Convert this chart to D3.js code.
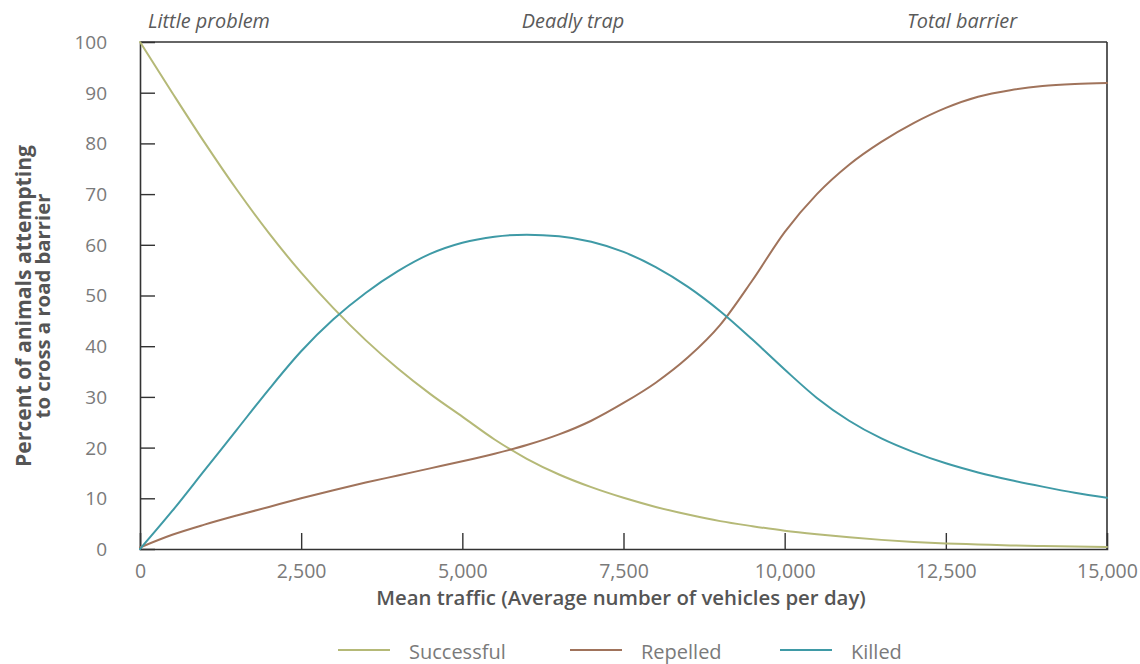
<!DOCTYPE html>
<html>
<head>
<meta charset="utf-8">
<script src="https://cdn.jsdelivr.net/npm/d3@7"></script>
<style>
  html, body { margin: 0; padding: 0; background: #fff; }
  svg { display: block; font-family: "Open Sans", Lato, sans-serif; }
</style>
</head>
<body>
<svg id="chart" width="1140" height="664"></svg>
<script>
const traffic = [0,500,1000,1500,2000,2500,3000,3500,4000,4500,5000,5500,6000,6500,7000,7500,8000,8500,9000,9500,10000,10500,11000,11500,12000,12500,13000,13500,14000,14500,15000];
const successful = [100,90,80.2,70.9,62.3,54.5,47.5,41.2,35.6,30.6,26.1,21.6,17.8,14.7,12.2,10.1,8.3,6.8,5.5,4.5,3.6,2.9,2.3,1.8,1.4,1.1,0.9,0.7,0.6,0.5,0.4];
const repelled = [0.3,2.8,4.8,6.6,8.3,10,11.6,13.1,14.5,15.9,17.3,18.8,20.5,22.6,25.3,28.8,32.8,37.8,44.2,53,62.5,70,75.8,80.3,84,87,89.2,90.5,91.3,91.7,91.9];
const killed = [0,7.5,15.5,23.5,31.5,39,45.3,50.5,54.8,58.2,60.4,61.6,62,61.7,60.6,58.6,55.6,51.7,46.9,41.3,35.4,29.8,25.3,21.8,19.1,16.9,15.1,13.6,12.3,11.1,10.1];
const seriesNames = ["Successful","Repelled","Killed"];
const xTicks = [0,2500,5000,7500,10000,12500,15000];
const yTicks = [0,10,20,30,40,50,60,70,80,90,100];
const zoneLabels = ["Little problem","Deadly trap","Total barrier"];
const xTitle = "Mean traffic (Average number of vehicles per day)";
const yTitleLines = ["Percent of animals attempting","to cross a road barrier"];

const colors = {"Successful":"#b5b977","Repelled":"#a0735b","Killed":"#3f9aa6"};
const seriesData = {"Successful":successful,"Repelled":repelled,"Killed":killed};

const svg = d3.select("#chart");
const mLeft = 140, mRight = 1107, mTop = 42, mBottom = 549;

const x = d3.scaleLinear().domain([0,15000]).range([mLeft,mRight]);
const y = d3.scaleLinear().domain([0,100]).range([mBottom,mTop]);

const axisColor = "#333";
const textColor = "#7a7a7a";
const titleColor = "#555";

// scale a text's font size so it spans the target width; returns the new size
function fitWidth(sel, target) {
  const node = sel.node();
  const fs = parseFloat(sel.style("font-size"));
  const w = node.getComputedTextLength();
  const nfs = w > 0 ? fs * target / w : fs;
  sel.style("font-size", nfs.toFixed(2) + "px");
  return nfs;
}

// frame top & right
svg.append("line").attr("x1",mLeft).attr("x2",mRight).attr("y1",mTop).attr("y2",mTop)
  .attr("stroke",axisColor).attr("stroke-width",1.6);
svg.append("line").attr("x1",mRight).attr("x2",mRight).attr("y1",mTop).attr("y2",mBottom)
  .attr("stroke",axisColor).attr("stroke-width",1.6);

// Y axis
const yAxis = svg.append("g").attr("transform",`translate(${mLeft},0)`)
  .call(d3.axisLeft(y).tickValues(yTicks).tickSize(-15).tickPadding(33).tickFormat(d3.format("d")));
yAxis.select(".domain").attr("stroke",axisColor).attr("stroke-width",1.6);
yAxis.selectAll(".tick line").attr("stroke",axisColor).attr("stroke-width",1.4)
  .filter(d => d === 0 || d === 100).remove();
yAxis.selectAll(".tick text").attr("fill",textColor)
  .style("font-size","19px").style("font-family","'Open Sans', sans-serif").attr("dy","0.34em");

// X axis
const xAxis = svg.append("g").attr("transform",`translate(0,${mBottom})`)
  .call(d3.axisBottom(x).tickValues(xTicks).tickSize(-16).tickPadding(15).tickFormat(d3.format(",")));
xAxis.select(".domain").attr("stroke",axisColor).attr("stroke-width",1.6);
xAxis.selectAll(".tick line").attr("stroke",axisColor).attr("stroke-width",1.4)
  .filter(d => d === 0 || d === 15000).remove();
xAxis.selectAll(".tick text").attr("fill",textColor)
  .style("font-size","19.5px").style("font-family","'Open Sans', sans-serif");

// Lines
const line = d3.line()
  .x((d,i) => x(traffic[i]))
  .y(d => y(d))
  .curve(d3.curveMonotoneX);

seriesNames.forEach(name => {
  svg.append("path")
    .datum(seriesData[name])
    .attr("fill","none")
    .attr("stroke",colors[name])
    .attr("stroke-width",2)
    .attr("stroke-linecap","round")
    .attr("d",line);
});

// Zone labels
const zoneX = [148, 573, 962];
const zoneAnchor = ["start","middle","middle"];
let zoneFs = 17;
zoneLabels.forEach((t,i) => {
  const z = svg.append("text").attr("x",zoneX[i]).attr("y",28)
    .attr("text-anchor",zoneAnchor[i])
    .attr("fill","#5a5a5a").style("font-style","italic").style("font-size","17px")
    .text(t);
  if (i === 0) zoneFs = fitWidth(z, 122);
  else z.style("font-size", zoneFs.toFixed(2) + "px");
});

// X title
const xt = svg.append("text").attr("x",621).attr("y",605)
  .attr("text-anchor","middle").attr("fill",titleColor)
  .style("font-weight","600").style("font-size","19px")
  .text(xTitle);
fitWidth(xt, 490);

// Y title
const yTitleX = [31, 50];
const yTitleW = [322, 225];
yTitleLines.forEach((t,i) => {
  const tt = svg.append("text").attr("transform",`translate(${yTitleX[i]},306) rotate(-90)`)
    .attr("text-anchor","middle").attr("fill",titleColor)
    .style("font-weight","bold").style("font-size","17px").text(t);
  fitWidth(tt, yTitleW[i]);
});

// Legend
const legendX = [338, 570, 780];
seriesNames.forEach((name,i) => {
  const g = svg.append("g").attr("transform",`translate(${legendX[i]},650)`);
  g.append("line").attr("x1",0).attr("x2",52).attr("y1",0).attr("y2",0)
    .attr("stroke",colors[name]).attr("stroke-width",2);
  g.append("text").attr("x",71).attr("y",9)
    .attr("fill",textColor).style("font-size","20px").text(name);
});
</script>
</body>
</html>
